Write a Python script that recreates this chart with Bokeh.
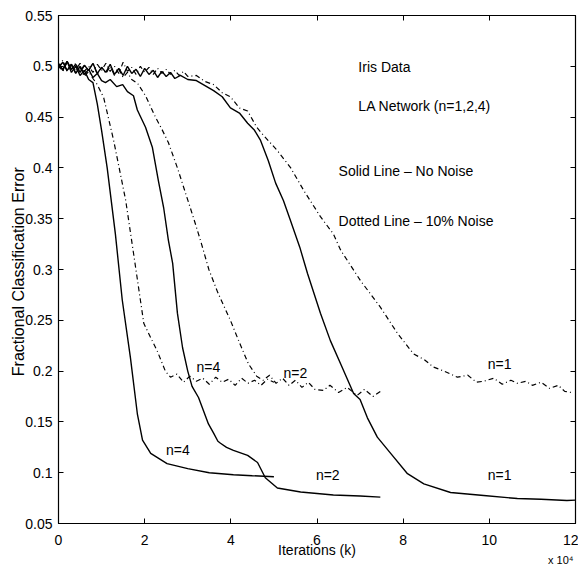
from bokeh.plotting import figure
from bokeh.models import Range1d, LinearAxis, FixedTicker, Label, Title
from bokeh.embed import file_html
from bokeh.resources import INLINE

FONT = "Liberation Sans"

x_ticks = [0, 2, 4, 6, 8, 10, 12]
x_tick_labels = ["0", "2", "4", "6", "8", "10", "12"]
y_ticks = [0.05, 0.1, 0.15, 0.2, 0.25, 0.3, 0.35, 0.4, 0.45, 0.5, 0.55]
y_tick_labels = ["0.05", "0.1", "0.15", "0.2", "0.25", "0.3", "0.35", "0.4", "0.45", "0.5", "0.55"]

# n=4, no noise
n4_solid_x = [0, 0.1, 0.2, 0.3, 0.4, 0.5, 0.6, 0.7, 0.8, 0.9, 1.0, 1.13, 1.32, 1.48, 1.67, 1.83, 1.95, 2.14, 2.52, 3.0, 3.5, 4.06, 4.5, 5.0]
n4_solid_y = [0.502, 0.497, 0.505, 0.494, 0.500, 0.491, 0.496, 0.487, 0.484, 0.463, 0.437, 0.400, 0.335, 0.270, 0.213, 0.158, 0.132, 0.119, 0.109, 0.104, 0.100, 0.098, 0.097, 0.096]

# n=4, 10% noise
n4_dot_x = [0, 0.1, 0.2, 0.3, 0.4, 0.5, 0.6, 0.7, 0.8, 0.9, 1.05, 1.28, 1.56, 1.79, 1.98, 2.15, 2.29, 2.48, 2.6, 2.75, 2.9, 3.05, 3.2, 3.35, 3.5, 3.65, 3.8, 3.95, 4.1, 4.25, 4.4, 4.55, 4.7, 4.85, 5.0]
n4_dot_y = [0.498, 0.506, 0.495, 0.503, 0.493, 0.499, 0.490, 0.495, 0.488, 0.482, 0.469, 0.427, 0.368, 0.302, 0.247, 0.232, 0.220, 0.200, 0.194, 0.197, 0.189, 0.195, 0.190, 0.193, 0.187, 0.194, 0.189, 0.192, 0.186, 0.193, 0.188, 0.191, 0.186, 0.192, 0.189]

# n=2, no noise
n2_solid_x = [0, 0.1, 0.2, 0.3, 0.4, 0.5, 0.6, 0.7, 0.8, 0.9, 1.0, 1.09, 1.2, 1.35, 1.49, 1.6, 1.74, 1.83, 2.02, 2.18, 2.32, 2.44, 2.55, 2.65, 2.76, 2.88, 3.0, 3.1, 3.25, 3.48, 3.6, 3.7, 3.76, 3.9, 4.06, 4.39, 4.62, 4.8, 5.08, 5.62, 6.38, 7.0, 7.47]
n2_solid_y = [0.499, 0.504, 0.496, 0.502, 0.493, 0.500, 0.492, 0.497, 0.489, 0.493, 0.486, 0.484, 0.487, 0.480, 0.482, 0.475, 0.471, 0.457, 0.440, 0.420, 0.387, 0.361, 0.329, 0.306, 0.257, 0.223, 0.200, 0.185, 0.174, 0.148, 0.139, 0.131, 0.129, 0.125, 0.122, 0.117, 0.110, 0.095, 0.085, 0.081, 0.078, 0.077, 0.076]

# n=2, 10% noise
n2_dot_x = [0, 0.1, 0.2, 0.3, 0.4, 0.5, 0.6, 0.7, 0.8, 0.9, 1.0, 1.1, 1.2, 1.3, 1.4, 1.5, 1.6, 1.7, 1.84, 2.02, 2.25, 2.4, 2.55, 2.76, 2.95, 3.14, 3.3, 3.49, 3.7, 3.99, 4.2, 4.41, 4.6, 4.75, 4.9, 5.05, 5.2, 5.35, 5.5, 5.65, 5.8, 5.95, 6.15, 6.3, 6.5, 6.7, 6.93, 7.1, 7.3, 7.47]
n2_dot_y = [0.501, 0.495, 0.504, 0.497, 0.503, 0.494, 0.501, 0.496, 0.503, 0.492, 0.499, 0.493, 0.500, 0.491, 0.497, 0.489, 0.494, 0.487, 0.483, 0.471, 0.450, 0.438, 0.425, 0.400, 0.375, 0.350, 0.328, 0.300, 0.277, 0.250, 0.228, 0.207, 0.195, 0.191, 0.196, 0.188, 0.193, 0.186, 0.191, 0.184, 0.189, 0.182, 0.181, 0.186, 0.179, 0.184, 0.176, 0.182, 0.175, 0.180]

# n=1, no noise
n1_solid_x = [0, 0.1, 0.2, 0.3, 0.4, 0.5, 0.6, 0.7, 0.8, 0.9, 1.0, 1.1, 1.2, 1.3, 1.4, 1.5, 1.6, 1.7, 1.8, 1.9, 2.0, 2.1, 2.2, 2.3, 2.4, 2.5, 2.6, 2.7, 2.83, 3.0, 3.2, 3.4, 3.6, 3.8, 3.99, 4.2, 4.39, 4.55, 4.69, 4.87, 5.04, 5.22, 5.37, 5.6, 5.78, 6.08, 6.31, 6.55, 6.85, 7.0, 7.17, 7.4, 7.71, 8.1, 8.48, 9.1, 9.87, 10.65, 11.2, 11.8, 12.0]
n1_solid_y = [0.503, 0.496, 0.505, 0.497, 0.502, 0.494, 0.501, 0.496, 0.503, 0.493, 0.499, 0.494, 0.502, 0.492, 0.498, 0.491, 0.500, 0.493, 0.497, 0.490, 0.498, 0.492, 0.496, 0.489, 0.495, 0.490, 0.494, 0.488, 0.491, 0.487, 0.486, 0.481, 0.476, 0.470, 0.459, 0.454, 0.444, 0.437, 0.427, 0.407, 0.385, 0.368, 0.350, 0.322, 0.296, 0.257, 0.230, 0.207, 0.178, 0.172, 0.154, 0.135, 0.119, 0.099, 0.089, 0.0805, 0.0775, 0.0746, 0.0738, 0.0726, 0.073]

# n=1, 10% noise
n1_dot_x = [0, 0.1, 0.2, 0.3, 0.4, 0.5, 0.6, 0.7, 0.8, 0.9, 1.0, 1.1, 1.2, 1.3, 1.4, 1.5, 1.6, 1.7, 1.8, 1.9, 2.0, 2.1, 2.2, 2.3, 2.4, 2.5, 2.6, 2.7, 2.8, 2.9, 3.0, 3.2, 3.4, 3.6, 3.8, 3.99, 4.2, 4.39, 4.6, 4.76, 5.08, 5.39, 5.69, 6.08, 6.38, 6.55, 7.01, 7.47, 7.87, 8.24, 8.5, 8.7, 8.95, 9.26, 9.5, 9.7, 9.87, 10.1, 10.3, 10.5, 10.65, 10.85, 11.0, 11.2, 11.4, 11.6, 11.75, 11.9]
n1_dot_y = [0.498, 0.504, 0.495, 0.501, 0.496, 0.503, 0.495, 0.500, 0.494, 0.502, 0.496, 0.503, 0.495, 0.500, 0.493, 0.504, 0.495, 0.499, 0.492, 0.500, 0.494, 0.499, 0.492, 0.498, 0.493, 0.497, 0.492, 0.496, 0.491, 0.495, 0.490, 0.491, 0.485, 0.482, 0.474, 0.470, 0.459, 0.456, 0.440, 0.432, 0.417, 0.400, 0.378, 0.352, 0.335, 0.319, 0.289, 0.263, 0.237, 0.217, 0.211, 0.204, 0.200, 0.194, 0.196, 0.189, 0.190, 0.193, 0.187, 0.191, 0.188, 0.190, 0.186, 0.189, 0.183, 0.186, 0.180, 0.179]

ann_x = [6.96, 6.96, 6.5, 6.5]
ann_y = [0.499, 0.461, 0.397, 0.348]
ann_text = ["Iris  Data", "LA  Network  (n=1,2,4)", "Solid Line \u2013 No  Noise", "Dotted Line \u2013 10%  Noise"]

nlab_x = [3.48, 5.5, 10.24, 2.77, 6.25, 10.24]
nlab_y = [0.2045, 0.198, 0.2065, 0.122, 0.098, 0.098]
nlab_text = ["n=4", "n=2", "n=1", "n=4", "n=2", "n=1"]

x_title = "Iterations (k)"
y_title = "Fractional Classification  Error"
x_scale_note = "x 10\u2074"

p = figure(width=578, height=568, output_backend="svg", toolbar_location=None,
           x_range=Range1d(0, 12), y_range=Range1d(0.05, 0.55),
           min_border_left=58, min_border_right=3, min_border_top=15, min_border_bottom=45)
p.background_fill_color = "white"
p.border_fill_color = "white"
p.outline_line_color = "black"
p.outline_line_width = 1.2
p.grid.visible = False

for ax in (p.xaxis[0], p.yaxis[0]):
    ax.major_tick_in = 5
    ax.major_tick_out = 0
    ax.minor_tick_line_color = None
    ax.axis_line_color = "black"
    ax.major_tick_line_color = "black"
    ax.major_label_text_font = FONT
    ax.major_label_text_font_size = "14px"
    ax.major_label_text_color = "black"
    ax.axis_label_text_font = FONT
    ax.axis_label_text_font_style = "normal"
    ax.axis_label_text_color = "black"

p.xaxis.ticker = FixedTicker(ticks=x_ticks)
p.xaxis.major_label_overrides = {t: s for t, s in zip(x_ticks, x_tick_labels)}
p.xaxis.major_label_standoff = 11
p.xaxis.axis_label = x_title
p.xaxis.axis_label_text_font_size = "14px"
p.xaxis.axis_label_standoff = -6

p.yaxis.ticker = FixedTicker(ticks=y_ticks)
p.yaxis.major_label_overrides = {t: s for t, s in zip(y_ticks, y_tick_labels)}
p.yaxis.major_label_standoff = 6
p.yaxis.axis_label = y_title
p.yaxis.axis_label_text_font_size = "16px"
p.yaxis.axis_label_standoff = -5

top = LinearAxis(ticker=FixedTicker(ticks=x_ticks), major_tick_in=5, major_tick_out=0,
                 minor_tick_line_color=None, major_label_text_font_size="1px",
                 major_label_overrides={t: "" for t in x_ticks},
                 major_label_standoff=0, axis_line_color="black")
right = LinearAxis(ticker=FixedTicker(ticks=y_ticks), major_tick_in=5, major_tick_out=0,
                   minor_tick_line_color=None, major_label_text_font_size="1px",
                   major_label_overrides={t: "" for t in y_ticks},
                   major_label_standoff=0, axis_line_color="black")
p.add_layout(top, "above")
p.add_layout(right, "right")

p.add_layout(Title(text=x_scale_note, align="right", vertical_align="top", text_font=FONT,
                   text_font_size="11px", text_font_style="normal", text_color="black",
                   standoff=-14, offset=2),
             "below")

solid = dict(line_color="black", line_width=1.4)
dotted = dict(line_color="black", line_width=1.2, line_dash="5 3 1 3")

p.line(n4_solid_x, n4_solid_y, **solid)
p.line(n2_solid_x, n2_solid_y, **solid)
p.line(n1_solid_x, n1_solid_y, **solid)
p.line(n4_dot_x, n4_dot_y, **dotted)
p.line(n2_dot_x, n2_dot_y, **dotted)
p.line(n1_dot_x, n1_dot_y, **dotted)

for x, y, t in zip(ann_x, ann_y, ann_text):
    p.add_layout(Label(x=x, y=y, text=t, text_font=FONT, text_font_size="14px",
                       text_color="black", text_baseline="middle", text_align="left"))
for x, y, t in zip(nlab_x, nlab_y, nlab_text):
    p.add_layout(Label(x=x, y=y, text=t, text_font=FONT, text_font_size="14px",
                       text_color="black", text_baseline="middle", text_align="center"))

open("out.html", "w").write(file_html(p, INLINE))
